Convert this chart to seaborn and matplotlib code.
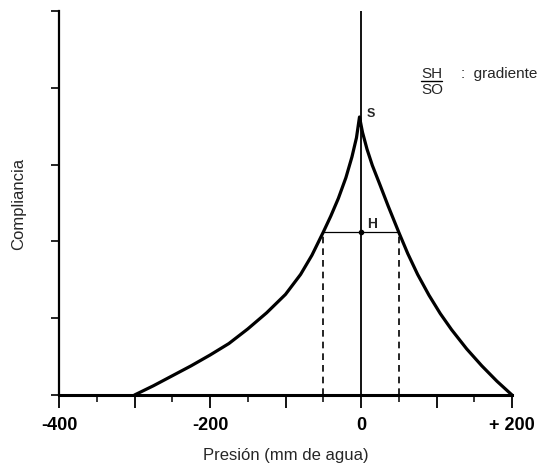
import matplotlib
matplotlib.use("Agg")
from matplotlib import pyplot as plt
import seaborn as sns
import pandas as pd

# curva del timpanograma
presion = [-300, -275, -250, -225, -200, -175, -150, -125, -100, -80, -65, -50,
           -40, -30, -20, -12, -6, -2,
           2, 8, 15, 25, 36, 50, 62, 75, 90, 105, 120, 140, 160, 180, 200]
compliancia = [0.00, 0.12, 0.25, 0.38, 0.52, 0.67, 0.86, 1.07, 1.31, 1.57, 1.82, 2.12,
               2.33, 2.56, 2.83, 3.10, 3.35, 3.62,
               3.42, 3.20, 2.99, 2.74, 2.46, 2.12, 1.84, 1.57, 1.30, 1.06, 0.85, 0.60, 0.38, 0.18, 0.00]

h_nivel = 2.12
h_izq, h_der = -50, 50
x_major = [-400, -300, -200, -100, 0, 100, 200]
x_labels = ['-400', '', '-200', '', '0', '', '+ 200']
x_minor = [-350, -250, -150, -50, 50, 150]
y_ticks = [0, 1, 2, 3, 4, 5]

sns.set_style('ticks')
plt.rcParams['font.family'] = ['Liberation Sans', 'DejaVu Sans']

df = pd.DataFrame({'presion': presion, 'compliancia': compliancia})

fig = plt.figure(figsize=(5.44, 4.77), dpi=100)
ax = fig.add_axes([59/544, 1-396/477, (512-59)/544, (396-12)/477])

sns.lineplot(data=df, x='presion', y='compliancia', sort=False, color='black',
             lw=2.3, ax=ax, clip_on=False)

ax.axvline(0, color='black', lw=1.3)
ax.hlines(h_nivel, h_izq, h_der, color='black', lw=0.9)
ax.vlines([h_izq, h_der], 0, h_nivel, color='black', lw=1.2, linestyles=(0, (4, 3)))
ax.plot([0], [h_nivel], 'o', color='black', ms=3)

ax.set_xlim(-400, 200)
ax.set_ylim(0, 5)
ax.set_xticks(x_major)
ax.set_xticklabels(x_labels)
ax.set_xticks(x_minor, minor=True)
ax.set_yticks(y_ticks)
ax.set_yticklabels([])
for lab in ax.get_xticklabels():
    lab.set_fontweight('bold')
    lab.set_fontsize(13)
ax.tick_params(axis='x', which='major', length=9, width=1.3, direction='out', pad=6, colors='black')
ax.tick_params(axis='x', which='minor', length=5, width=1.3, direction='out')
ax.tick_params(axis='y', length=6, width=1.2, direction='out', colors='black')

sns.despine(ax=ax)
ax.spines['left'].set_linewidth(1.6)
ax.spines['bottom'].set_linewidth(2.2)
ax.spines['left'].set_color('black')
ax.spines['bottom'].set_color('black')

ax.set_xlabel('Presión (mm de agua)', fontsize=12, labelpad=10)
ax.set_ylabel('Compliancia', fontsize=12, labelpad=14)

ax.text(13, 3.67, 'S', fontsize=9, fontweight='bold', va='center', ha='center')
ax.text(14.5, 2.24, 'H', fontsize=10, fontweight='bold', va='center', ha='center')
ax.text(80, 4.19, 'SH', fontsize=11, va='center', ha='left')
ax.text(80, 3.98, 'SO', fontsize=11, va='center', ha='left')
ax.plot([80, 107], [4.09, 4.09], color='black', lw=1, clip_on=False)
ax.text(133, 4.19, ':  gradiente', fontsize=11, va='center', ha='left')

fig.savefig('out.png', dpi=100)
